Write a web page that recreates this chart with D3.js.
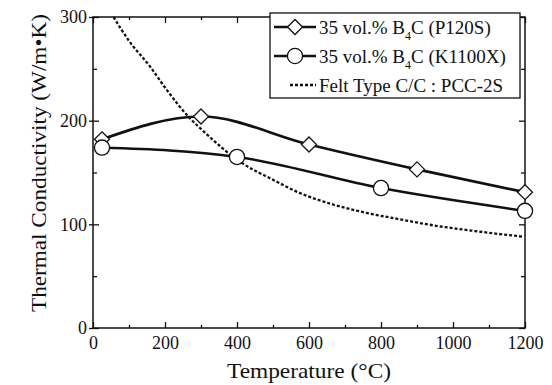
<!DOCTYPE html>
<html>
<head>
<meta charset="utf-8">
<script src="https://cdn.jsdelivr.net/npm/d3@7"></script>
<style>
  body { margin: 0; background: #fff; }
  text { font-family: "Liberation Serif", "Times New Roman", serif; fill: #111; }
</style>
</head>
<body>
<div id="chart"></div>
<script>
// values (temperature in degC, conductivity in W/m.K)
const tempP120S = [25, 300, 600, 900, 1200];
const condP120S = [182, 204, 177, 153, 131];

const tempK1100X = [25, 400, 800, 1200];
const condK1100X = [174, 165, 135, 113];

const tempFelt = [57, 100, 159, 200, 270, 300, 410, 500, 576, 668, 760, 850, 946, 1050, 1196];
const condFelt = [300, 277, 252, 232, 202, 192, 160, 143, 130, 119, 111, 105, 99, 94, 88];

const xTicks = [0, 200, 400, 600, 800, 1000, 1200];
const xMinor = [100, 300, 500, 700, 900, 1100];
const yTicks = [0, 100, 200, 300];
const yMinor = [50, 150, 250];

const W = 552, H = 385;
const margin = { top: 17, right: 27, bottom: 57, left: 93 };

const svg = d3.select('#chart').append('svg')
  .attr('width', W)
  .attr('height', H);

const x = d3.scaleLinear().domain([0, 1200]).range([margin.left, W - margin.right]);
const y = d3.scaleLinear().domain([0, 300]).range([H - margin.bottom, margin.top]);

// axes, ticks pointing inward
function tickAxis(axis, vals, size, labels) {
  return axis.tickValues(vals).tickSizeInner(-size).tickSizeOuter(0)
    .tickFormat(labels ? d3.format('d') : '');
}

svg.append('g').attr('transform', `translate(0,${y(0)})`)
  .call(tickAxis(d3.axisBottom(x), xTicks, 6, true).tickPadding(8));
svg.append('g').attr('transform', `translate(0,${y(0)})`)
  .call(tickAxis(d3.axisBottom(x), xMinor, 3, false));
svg.append('g').attr('transform', `translate(0,${y(300)})`)
  .call(tickAxis(d3.axisTop(x), xTicks, 6, false));
svg.append('g').attr('transform', `translate(0,${y(300)})`)
  .call(tickAxis(d3.axisTop(x), xMinor, 3, false));

svg.append('g').attr('transform', `translate(${x(0)},0)`)
  .call(tickAxis(d3.axisLeft(y), yTicks, 6, true).tickPadding(6));
// short outer stubs on the left major ticks
svg.append('g').attr('transform', `translate(${x(0)},0)`)
  .call(tickAxis(d3.axisLeft(y), yTicks, -4, false));
svg.append('g').attr('transform', `translate(${x(0)},0)`)
  .call(tickAxis(d3.axisLeft(y), yMinor, 4, false));
svg.append('g').attr('transform', `translate(${x(1200)},0)`)
  .call(tickAxis(d3.axisRight(y), yTicks, 6, false));
svg.append('g').attr('transform', `translate(${x(1200)},0)`)
  .call(tickAxis(d3.axisRight(y), yMinor, 4, false));

svg.selectAll('.domain').remove();
svg.selectAll('.tick line').attr('stroke', '#111').attr('stroke-width', 1.3);
svg.selectAll('.tick text').style('font-size', '18px').attr('fill', '#111');

// plot frame
svg.append('rect')
  .attr('x', x(0)).attr('y', y(300))
  .attr('width', x(1200) - x(0)).attr('height', y(0) - y(300))
  .attr('fill', 'none').attr('stroke', '#111').attr('stroke-width', 1.5);

// axis titles
svg.append('text')
  .attr('x', (x(0) + x(1200)) / 2).attr('y', 378)
  .attr('text-anchor', 'middle')
  .attr('textLength', 164).attr('lengthAdjust', 'spacingAndGlyphs')
  .style('font-size', '21px')
  .text('Temperature (°C)');

svg.append('text')
  .attr('transform', `translate(46,${(13 + 313) / 2}) rotate(-90)`)
  .attr('text-anchor', 'middle')
  .attr('textLength', 298).attr('lengthAdjust', 'spacingAndGlyphs')
  .style('font-size', '21px')
  .text('Thermal Conductivity (W/m•K)');

// curves
const line = d3.line()
  .x(d => x(d[0]))
  .y(d => y(d[1]))
  .curve(d3.curveMonotoneX);

const p120s = d3.zip(tempP120S, condP120S);
const k1100x = d3.zip(tempK1100X, condK1100X);
const felt = d3.zip(tempFelt, condFelt);

svg.append('path').datum(felt)
  .attr('d', line)
  .attr('fill', 'none').attr('stroke', '#111')
  .attr('stroke-width', 2.3).attr('stroke-dasharray', '3,2');

svg.append('path').datum(p120s)
  .attr('d', line)
  .attr('fill', 'none').attr('stroke', '#111').attr('stroke-width', 2.7);

svg.append('path').datum(k1100x)
  .attr('d', line)
  .attr('fill', 'none').attr('stroke', '#111').attr('stroke-width', 2.5);

const diamond = 'M0,-7.5L7.5,0L0,7.5L-7.5,0Z';

svg.selectAll('.dia').data(p120s).enter().append('path')
  .attr('class', 'dia')
  .attr('transform', d => `translate(${x(d[0])},${y(d[1])})`)
  .attr('d', diamond)
  .attr('fill', '#fff').attr('stroke', '#111').attr('stroke-width', 1.3);

svg.selectAll('.circ').data(k1100x).enter().append('circle')
  .attr('class', 'circ')
  .attr('cx', d => x(d[0])).attr('cy', d => y(d[1]))
  .attr('r', 7.6)
  .attr('fill', '#fff').attr('stroke', '#111').attr('stroke-width', 1.3);

// legend
const legend = svg.append('g');
legend.append('rect')
  .attr('x', 270).attr('y', 13).attr('width', 250).attr('height', 85)
  .attr('fill', '#fff').attr('stroke', '#111').attr('stroke-width', 1.3);

const rows = [27, 56, 85];
const lx1 = 274, lx2 = 316, lmid = 295, tx = 319;

legend.append('line').attr('x1', lx1).attr('x2', lx2).attr('y1', rows[0]).attr('y2', rows[0])
  .attr('stroke', '#111').attr('stroke-width', 2.7);
legend.append('path').attr('transform', `translate(${lmid},${rows[0]})`).attr('d', diamond)
  .attr('fill', '#fff').attr('stroke', '#111').attr('stroke-width', 1.3);

legend.append('line').attr('x1', lx1).attr('x2', lx2).attr('y1', rows[1]).attr('y2', rows[1])
  .attr('stroke', '#111').attr('stroke-width', 2.5);
legend.append('circle').attr('cx', lmid).attr('cy', rows[1]).attr('r', 7.6)
  .attr('fill', '#fff').attr('stroke', '#111').attr('stroke-width', 1.3);

legend.append('line').attr('x1', 290).attr('x2', lx2).attr('y1', rows[2]).attr('y2', rows[2])
  .attr('stroke', '#111').attr('stroke-width', 2.3).attr('stroke-dasharray', '3,2');

function b4cLabel(yy, tail) {
  const t = legend.append('text').attr('x', tx).attr('y', yy).attr('dy', '0.35em')
    .style('font-size', '19px');
  t.append('tspan').text('35 vol.% B');
  t.append('tspan').attr('dy', 6).style('font-size', '12px').text('4');
  t.append('tspan').attr('dy', -6).text('C ' + tail);
}
b4cLabel(rows[0], '(P120S)');
b4cLabel(rows[1], '(K1100X)');
legend.append('text').attr('x', tx).attr('y', rows[2]).attr('dy', '0.35em')
  .style('font-size', '19px')
  .text('Felt Type C/C : PCC-2S');
</script>
</body>
</html>
